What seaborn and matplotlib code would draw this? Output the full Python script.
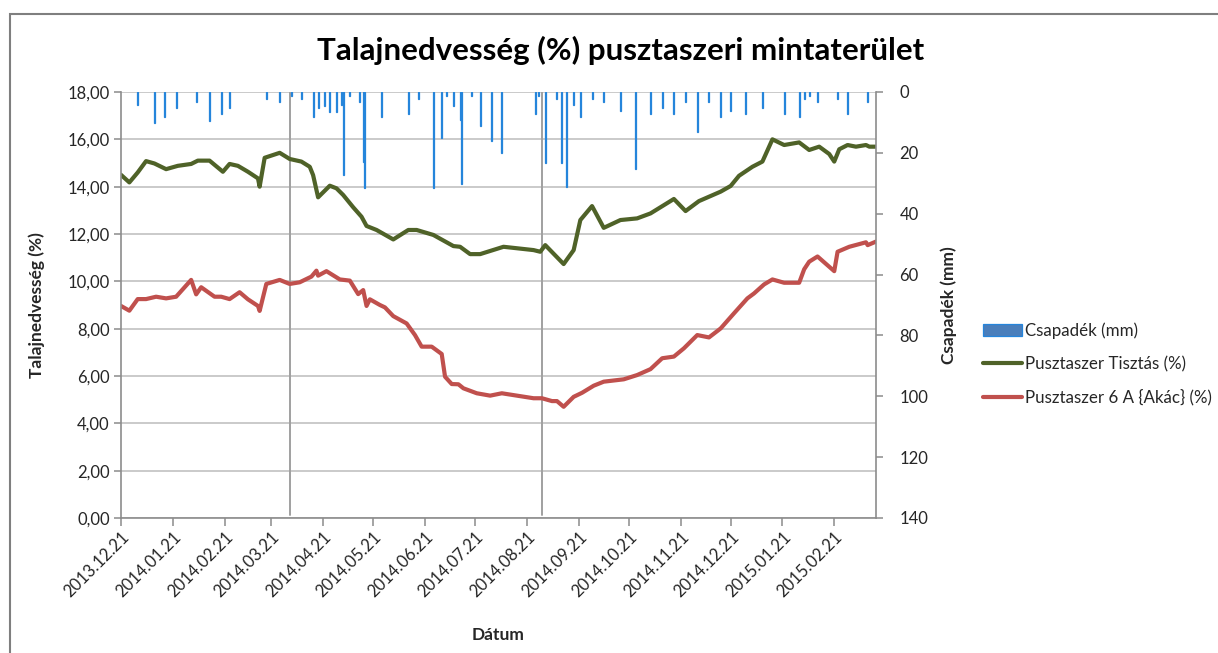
import pandas as pd
import numpy as np
import matplotlib
matplotlib.use('Agg')
import matplotlib.pyplot as plt
import matplotlib.dates as mdates
from matplotlib.ticker import FuncFormatter, MultipleLocator
from matplotlib.patches import Rectangle
import seaborn as sns

# Soil moisture, Pusztaszer Tisztás (%)
tisztas_dates = [
    '2013-12-21', '2013-12-26', '2013-12-31', '2014-01-05', '2014-01-10', '2014-01-17',
    '2014-01-24', '2014-02-01', '2014-02-05', '2014-02-12', '2014-02-20', '2014-02-24',
    '2014-03-01', '2014-03-07', '2014-03-13', '2014-03-14', '2014-03-17', '2014-03-26',
    '2014-04-01', '2014-04-08', '2014-04-13', '2014-04-15', '2014-04-18', '2014-04-25',
    '2014-04-29', '2014-05-03', '2014-05-09', '2014-05-14', '2014-05-17', '2014-05-23',
    '2014-06-02', '2014-06-11', '2014-06-16', '2014-06-26', '2014-07-08', '2014-07-12',
    '2014-07-18', '2014-07-24', '2014-08-07', '2014-08-25', '2014-08-29', '2014-09-01',
    '2014-09-12', '2014-09-18', '2014-09-22', '2014-09-29', '2014-10-06', '2014-10-16',
    '2014-10-26', '2014-11-03', '2014-11-17', '2014-11-24', '2014-12-02', '2014-12-15',
    '2014-12-21', '2014-12-26', '2015-01-03', '2015-01-09', '2015-01-15', '2015-01-22',
    '2015-01-31', '2015-02-06', '2015-02-12', '2015-02-18', '2015-02-21', '2015-02-24',
    '2015-03-01', '2015-03-06', '2015-03-12', '2015-03-14', '2015-03-18',
]
tisztas_values = [
    14.50, 14.18, 14.60, 15.08, 14.98, 14.74,
    14.88, 14.96, 15.10, 15.10, 14.63, 14.96,
    14.88, 14.63, 14.35, 14.00, 15.22, 15.43,
    15.17, 15.06, 14.84, 14.49, 13.55, 14.04,
    13.93, 13.65, 13.13, 12.73, 12.34, 12.17,
    11.77, 12.17, 12.17, 11.96, 11.49, 11.46,
    11.15, 11.15, 11.46, 11.32, 11.25, 11.53,
    10.73, 11.32, 12.59, 13.18, 12.26, 12.59,
    12.66, 12.87, 13.48, 12.97, 13.39, 13.79,
    14.03, 14.46, 14.84, 15.06, 16.00, 15.76,
    15.87, 15.55, 15.69, 15.38, 15.06, 15.58,
    15.76, 15.69, 15.76, 15.69, 15.69,
]

# Soil moisture, Pusztaszer 6 A {Akác} (%)
akac_dates = [
    '2013-12-21', '2013-12-26', '2013-12-31', '2014-01-05', '2014-01-11', '2014-01-17',
    '2014-01-23', '2014-02-01', '2014-02-04', '2014-02-07', '2014-02-15', '2014-02-19',
    '2014-02-24', '2014-03-02', '2014-03-07', '2014-03-13', '2014-03-14', '2014-03-18',
    '2014-03-26', '2014-04-01', '2014-04-07', '2014-04-14', '2014-04-17', '2014-04-18',
    '2014-04-23', '2014-05-01', '2014-05-07', '2014-05-12', '2014-05-15', '2014-05-17',
    '2014-05-19', '2014-05-25', '2014-05-28', '2014-06-02', '2014-06-10', '2014-06-15',
    '2014-06-19', '2014-06-25', '2014-07-01', '2014-07-03', '2014-07-07', '2014-07-11',
    '2014-07-14', '2014-07-22', '2014-07-30', '2014-08-06', '2014-08-25', '2014-08-30',
    '2014-09-05', '2014-09-08', '2014-09-12', '2014-09-18', '2014-09-23', '2014-09-30',
    '2014-10-06', '2014-10-18', '2014-10-26', '2014-11-03', '2014-11-10', '2014-11-17',
    '2014-11-23', '2014-12-01', '2014-12-08', '2014-12-15', '2014-12-23', '2014-12-31',
    '2015-01-04', '2015-01-10', '2015-01-15', '2015-01-22', '2015-01-31', '2015-02-03',
    '2015-02-06', '2015-02-11', '2015-02-21', '2015-02-23', '2015-03-02', '2015-03-12',
    '2015-03-13', '2015-03-18',
]
akac_values = [
    8.96, 8.76, 9.25, 9.25, 9.35, 9.28,
    9.35, 10.06, 9.45, 9.75, 9.35, 9.35,
    9.25, 9.54, 9.24, 8.96, 8.75, 9.89,
    10.06, 9.89, 9.96, 10.20, 10.45, 10.24,
    10.43, 10.08, 10.03, 9.46, 9.63, 8.96,
    9.24, 9.00, 8.90, 8.53, 8.22, 7.73,
    7.24, 7.24, 6.93, 5.97, 5.66, 5.65,
    5.48, 5.27, 5.17, 5.27, 5.06, 5.06,
    4.94, 4.94, 4.70, 5.12, 5.29, 5.59,
    5.76, 5.86, 6.04, 6.29, 6.75, 6.82,
    7.17, 7.73, 7.63, 8.01, 8.65, 9.28,
    9.49, 9.87, 10.08, 9.94, 9.94, 10.51,
    10.83, 11.05, 10.43, 11.25, 11.46, 11.65,
    11.53, 11.68,
]

# Precipitation (mm), right axis
rain_dates = [
    '2013-12-31', '2014-01-10', '2014-01-16', '2014-01-23', '2014-02-04', '2014-02-12',
    '2014-02-19', '2014-02-24', '2014-03-18', '2014-03-26', '2014-04-02', '2014-04-08',
    '2014-04-15', '2014-04-18', '2014-04-22', '2014-04-25', '2014-04-29', '2014-05-02',
    '2014-05-03', '2014-05-07', '2014-05-13', '2014-05-15', '2014-05-16', '2014-05-26',
    '2014-06-11', '2014-06-17', '2014-06-26', '2014-07-01', '2014-07-04', '2014-07-08',
    '2014-07-12', '2014-07-13', '2014-07-19', '2014-07-24', '2014-07-31', '2014-08-06',
    '2014-08-26', '2014-08-28', '2014-09-01', '2014-09-08', '2014-09-11', '2014-09-14',
    '2014-09-18', '2014-09-22', '2014-09-29', '2014-10-06', '2014-10-16', '2014-10-25',
    '2014-11-03', '2014-11-10', '2014-11-17', '2014-11-24', '2014-12-01', '2014-12-08',
    '2014-12-15', '2014-12-21', '2014-12-30', '2015-01-09', '2015-01-22', '2015-01-31',
    '2015-02-03', '2015-02-06', '2015-02-11', '2015-02-23', '2015-03-01', '2015-03-13',
]
rain_mm = [
    4.3, 10.3, 8.3, 5.4, 3.2, 9.4,
    7.3, 5.4, 2.4, 3.2, 1.3, 2.4,
    8.1, 5.4, 4.5, 6.5, 6.5, 4.3,
    27.3, 1.3, 3.2, 22.9, 31.4, 8.3,
    7.3, 2.3, 31.4, 15.2, 1.3, 4.5,
    9.2, 30.3, 1.3, 11.1, 16.1, 20.1,
    7.2, 1.3, 23.2, 2.3, 23.2, 31.3,
    4.3, 8.1, 2.3, 3.2, 6.2, 25.3,
    7.2, 5.2, 7.2, 3.2, 13.3, 3.2,
    8.1, 6.2, 7.2, 5.2, 7.2, 8.1,
    2.3, 1.3, 3.2, 2.3, 7.2, 3.2,
]

marker_dates = ['2014-04-01', '2014-08-30']

series_names = ['Pusztaszer Tisztás (%)', 'Pusztaszer 6 A {Akác} (%)']
series_colors = ['#4f6228', '#c0504d']

moist = pd.concat([
    pd.DataFrame({'date': pd.to_datetime(tisztas_dates), 'value': tisztas_values, 'series': series_names[0]}),
    pd.DataFrame({'date': pd.to_datetime(akac_dates), 'value': akac_values, 'series': series_names[1]}),
], ignore_index=True)

sns.set_style('white')
plt.rcParams['font.family'] = ['Lato', 'DejaVu Sans']

fig = plt.figure(figsize=(12.18, 6.53), dpi=100)
ax = fig.add_axes([121 / 1218, 1 - 518 / 653, 755 / 1218, 426 / 653])
ax2 = ax.twinx()

# precipitation bars hanging from the top (inverted right axis)
bars = ax2.bar(pd.to_datetime(rain_dates), rain_mm, width=0.6, color='#4a7ebb',
               edgecolor='#2585db', linewidth=0.9, label='Csapadék (mm)')
ax2.set_ylim(140, 0)
ax2.yaxis.set_major_locator(MultipleLocator(20))

sns.lineplot(data=moist, x='date', y='value', hue='series', hue_order=series_names,
             palette=series_colors, linewidth=3.0, legend=False, ax=ax)
moist_lines = list(ax.get_lines())

for d in marker_dates:
    ax.axvline(pd.Timestamp(d), ymin=0.006, ymax=1, color='#a0a0a0', lw=1.4, zorder=1)

ax.set_ylim(0, 18)
ax.yaxis.set_major_locator(MultipleLocator(2))
ax.yaxis.set_major_formatter(FuncFormatter(lambda v, p: f'{v:.2f}'.replace('.', ',')))
ax.set_xlim(pd.Timestamp('2013-12-21'), pd.Timestamp('2015-03-18'))
ax.xaxis.set_major_locator(mdates.MonthLocator(bymonthday=21))
ax.xaxis.set_major_formatter(mdates.DateFormatter('%Y.%m.%d'))
ax.grid(axis='y', color='#c6c6c6', lw=1.3)
ax.grid(axis='x', visible=False)
ax.set_axisbelow(True)

spine_col = '#8c8c8c'
for s in ['left', 'bottom']:
    ax.spines[s].set_color(spine_col)
    ax.spines[s].set_linewidth(1.2)
ax.spines['top'].set_visible(False)
ax.spines['right'].set_visible(False)
ax2.spines['right'].set_color(spine_col)
ax2.spines['right'].set_linewidth(1.2)
for s in ['left', 'top', 'bottom']:
    ax2.spines[s].set_visible(False)

ax.tick_params(axis='y', left=True, length=5, width=1.1, color=spine_col,
               labelsize=12, labelcolor='#262626', pad=3)
ax.tick_params(axis='x', bottom=True, length=6, width=1.1, color=spine_col,
               labelsize=12, labelcolor='#262626', pad=2)
ax2.tick_params(axis='y', right=True, length=5, width=1.1, color=spine_col,
                labelsize=12, labelcolor='#262626', pad=12)
for lab in ax.get_xticklabels():
    lab.set_rotation(45)
    lab.set_ha('right')
    lab.set_rotation_mode('anchor')

ax.set_xlabel('Dátum', fontsize=12.5, fontweight='bold')
ax.set_ylabel('Talajnedvesség (%)', fontsize=12.5, fontweight='bold')
ax2.set_ylabel('Csapadék (mm)', fontsize=12.5, fontweight='bold')
ax.xaxis.set_label_coords(0.5, -0.256)
ax.yaxis.set_label_coords(-0.101, 0.5)
ax2.yaxis.set_label_coords(1.086, 0.5)

fig.text(621 / 1218, 1 - 50 / 653, 'Talajnedvesség (%) pusztaszeri mintaterület',
         ha='center', va='center', fontsize=22.5, fontweight='bold', color='black')

fig.legend([bars] + moist_lines[:2], ['Csapadék (mm)'] + series_names,
           loc='center left', bbox_to_anchor=(976 / 1218, 1 - 364 / 653),
           frameon=False, fontsize=12.2, handlelength=2.3, handletextpad=0.2,
           labelspacing=1.0, borderaxespad=0)

# chart area border (only top and left edges are inside the picture)
fig.add_artist(Rectangle((10 / 1218, -0.5), 2, 1.5 - 14 / 653, transform=fig.transFigure,
                         fill=False, edgecolor='#7f7f7f', lw=1.5))

fig.savefig('out.png', dpi=100)
